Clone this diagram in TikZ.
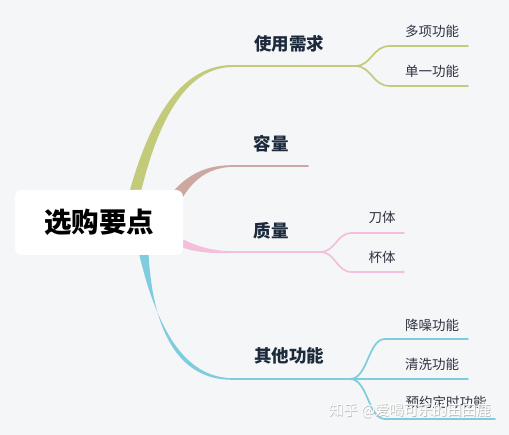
\documentclass[tikz,border=0pt]{standalone}
\usepackage{fontspec}
\newfontfamily\cjk{Noto Sans CJK SC}
\definecolor{bgc}{HTML}{F5F6F8}
\definecolor{cgreen}{HTML}{C3CB7B}
\definecolor{cbrown}{HTML}{CBA9A1}
\definecolor{cpink}{HTML}{F6BEDD}
\definecolor{ccyan}{HTML}{7FCCDE}
\definecolor{navy}{HTML}{1C2A3C}
\definecolor{subt}{HTML}{2E3440}
\tikzset{
  rootbox/.style={fill=white,rounded corners=7pt,minimum width=168pt,minimum height=65pt,inner sep=0pt,font=\cjk\bfseries\fontsize{27.5}{30}\selectfont,text=black},
  mainlbl/.style={font=\cjk\bfseries\fontsize{17.5}{20}\selectfont,text=navy,inner sep=0pt},
  sublbl/.style={font=\cjk\fontsize{13.5}{16}\selectfont,text=subt,inner sep=0pt},
  thinline/.style={line width=1.7pt,line cap=round}
}
\begin{document}
\begin{tikzpicture}[x=1pt,y=-1pt]
\useasboundingbox (0,0) rectangle (509,435);
\fill[bgc] (0,0) rectangle (509,435);
% coordinates
\coordinate (g0) at (233,66); \coordinate (g1) at (355,66);
\coordinate (g2) at (390,46); \coordinate (g2e) at (468,46);
\coordinate (g3) at (390,86); \coordinate (g3e) at (468,86);
\coordinate (b0) at (233,166); \coordinate (b1) at (308,166);
\coordinate (p0) at (233,252); \coordinate (p1) at (320,252);
\coordinate (p2) at (352,233); \coordinate (p2e) at (404,233);
\coordinate (p3) at (352,272); \coordinate (p3e) at (404,272);
\coordinate (c0) at (233,379); \coordinate (c1) at (350,379);
\coordinate (c2) at (385,339); \coordinate (c2e) at (468,339);
\coordinate (c3e) at (468,379);
\coordinate (c4) at (385,419); \coordinate (c4e) at (495,419);
% tapered main branches
\fill[cgreen] (126,205) .. controls (150,110) and (185,65) .. (233,65)
  -- (233,67) .. controls (190,67) and (158,112) .. (138,205) -- cycle;
\fill[cbrown] (170,195) .. controls (188,173) and (208,165) .. (233,165.2)
  -- (233,166.8) .. controls (212,167.5) and (196,176) .. (183,197) -- cycle;
\fill[cpink] (178,237) .. controls (198,247) and (212,251) .. (233,251.2)
  -- (233,252.8) .. controls (210,254) and (194,252) .. (178,246) -- cycle;
\fill[ccyan] (136,240) .. controls (155,330) and (185,378) .. (233,378.2)
  -- (233,379.8) .. controls (178,380.5) and (150,330) .. (148,240) -- cycle;
% root node
\node[rootbox] (root) at (99,222.5) {选购要点};
% horizontal lines and splits
\draw[cgreen,thinline] (g0) -- (g1);
\draw[cgreen,thinline] (g1) .. controls (372,66) and (372,46) .. (g2) -- (g2e);
\draw[cgreen,thinline] (g1) .. controls (372,66) and (372,86) .. (g3) -- (g3e);
\draw[cbrown,thinline] (b0) -- (b1);
\draw[cpink,thinline] (p0) -- (p1);
\draw[cpink,thinline] (p1) .. controls (336,252) and (336,233) .. (p2) -- (p2e);
\draw[cpink,thinline] (p1) .. controls (336,252) and (336,272) .. (p3) -- (p3e);
\draw[ccyan,thinline] (c0) -- (c1);
\draw[ccyan,thinline] (c1) .. controls (368,379) and (368,339) .. (c2) -- (c2e);
\draw[ccyan,thinline] (c1) -- (c3e);
\draw[ccyan,thinline] (c1) .. controls (368,379) and (368,419) .. (c4) -- (c4e);
% labels
\node[mainlbl] (n1) at (289,44) {使用需求};
\node[mainlbl] (n2) at (271,144) {容量};
\node[mainlbl] (n3) at (271,231) {质量};
\node[mainlbl] (n4) at (289,356) {其他功能};
\node[sublbl] (s1) at (432,31) {多项功能};
\node[sublbl] (s2) at (432,71) {单一功能};
\node[sublbl] (s3) at (382,217) {刀体};
\node[sublbl] (s4) at (382,257) {杯体};
\node[sublbl] (s5) at (432,325) {降噪功能};
\node[sublbl] (s6) at (432,364) {清洗功能};
\node[sublbl] (s7) at (446,402) {预约定时功能};
% watermark
\node[font=\cjk\fontsize{14.5}{16}\selectfont,text=gray!55,inner sep=0pt] (wms) at (410.6,411.6) {知乎 @爱喝可乐的田田鹿};
\node[font=\cjk\fontsize{14.5}{16}\selectfont,text=white,inner sep=0pt] (wm) at (410,411) {知乎 @爱喝可乐的田田鹿};
\end{tikzpicture}
\end{document}
